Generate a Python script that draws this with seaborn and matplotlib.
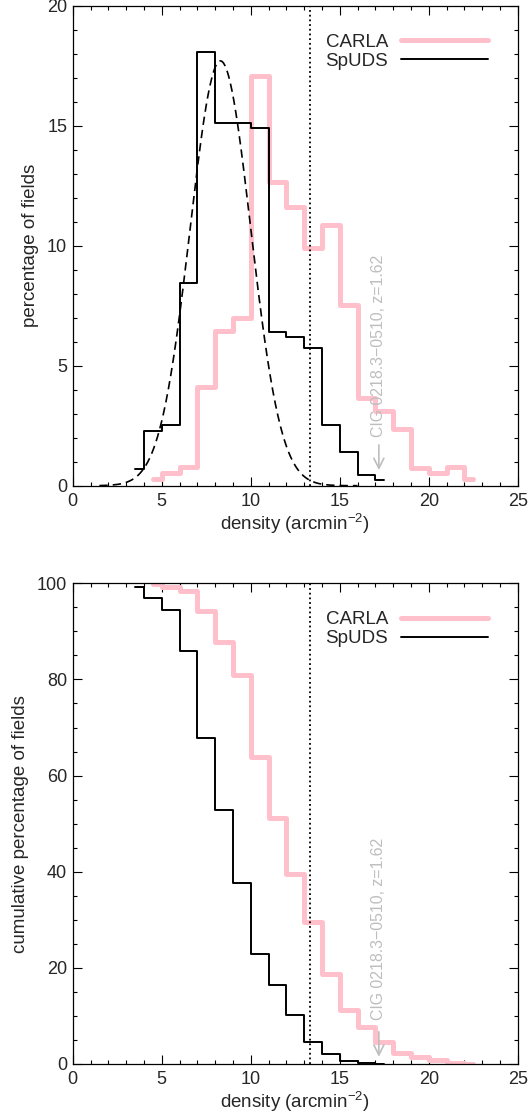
import numpy as np
import pandas as pd
import matplotlib
matplotlib.use("Agg")
import matplotlib.pyplot as plt
from matplotlib.ticker import MultipleLocator
import seaborn as sns

# ---------------- data ----------------
spuds_centers = [3.5, 4.5, 5.5, 6.5, 7.5, 8.5, 9.5, 10.5, 11.5, 12.5, 13.5, 14.5, 15.5, 16.5, 17.5]
spuds_pct = [0.68, 2.29, 2.53, 8.46, 18.07, 15.10, 15.10, 14.89, 6.42, 6.18, 5.72, 2.53, 1.39, 0.45, 0.24]
spuds_cum = [99.3, 97.0, 94.4, 85.9, 67.9, 52.8, 37.7, 22.8, 16.5, 10.2, 4.5, 2.0, 0.7, 0.2, 0.0]

carla_centers = [4.5, 5.5, 6.5, 7.5, 8.5, 9.5, 10.5, 11.5, 12.5, 13.5, 14.5, 15.5, 16.5,
                 17.5, 18.5, 19.5, 20.5, 21.5, 22.5]
carla_pct = [0.27, 0.52, 0.79, 4.13, 6.46, 6.97, 17.07, 12.67, 11.63, 9.89, 10.86, 7.53, 3.64,
             3.13, 2.35, 0.75, 0.52, 0.79, 0.27]
carla_cum = [99.8, 99.2, 98.4, 94.3, 87.8, 80.9, 63.8, 51.1, 39.5, 29.6, 18.8, 11.3, 7.6,
             4.6, 2.3, 1.4, 0.9, 0.2, 0.0]

# Gaussian fit to SpUDS (parameters)
gauss_amp = 17.7
gauss_mean = 8.3
gauss_sigma = 1.7
gauss_xrange = (1.5, 16.0)

cluster_density = 13.33
cluster_label = "CIG 0218.3\u22120510, z=1.62"

x_ticks = [0, 5, 10, 15, 20, 25]

# ---------------- style ----------------
sns.set_theme(style="ticks")
plt.rcParams["font.family"] = ["Liberation Sans", "DejaVu Sans"]
plt.rcParams["mathtext.fontset"] = "custom"
plt.rcParams["mathtext.rm"] = "Liberation Sans"
plt.rcParams["mathtext.it"] = "Liberation Sans:italic"

PINK = "#ffc0cb"
GRAY = "#bebebe"
TICK_FS = 13
LAB_FS = 13.5
LEG_FS = 13.5

W, H = 528, 1118
fig = plt.figure(figsize=(W / 100, H / 100), dpi=100)
ax1 = fig.add_axes([72.7 / W, 1 - 485.7 / H, 445 / W, 480.0 / H])
ax2 = fig.add_axes([72.7 / W, 1 - 1064 / H, 445 / W, 480.7 / H])

df_c = pd.DataFrame({"x": carla_centers, "pct": carla_pct, "cum": carla_cum})
df_s = pd.DataFrame({"x": spuds_centers, "pct": spuds_pct, "cum": spuds_cum})

gx = np.linspace(gauss_xrange[0], gauss_xrange[1], 400)
gy = gauss_amp * np.exp(-0.5 * ((gx - gauss_mean) / gauss_sigma) ** 2)


def style_axes(ax, ymax, ymajor, yminor, ylabel, ylabelpad):
    ax.set_xlim(0, 25)
    ax.set_ylim(0, ymax)
    ax.set_xticks(x_ticks)
    ax.xaxis.set_minor_locator(MultipleLocator(1))
    ax.yaxis.set_major_locator(MultipleLocator(ymajor))
    ax.yaxis.set_minor_locator(MultipleLocator(yminor))
    ax.tick_params(which="both", direction="in", top=True, right=True,
                   color="black", width=0.8)
    ax.tick_params(which="major", length=6.5)
    ax.tick_params(which="minor", length=3.2)
    ax.tick_params(axis="x", which="major", pad=5.0, labelsize=TICK_FS)
    ax.tick_params(axis="y", which="major", pad=4, labelsize=TICK_FS)
    for sp in ax.spines.values():
        sp.set_visible(True)
        sp.set_color("black")
        sp.set_linewidth(0.9)
    ax.set_xlabel("density (arcmin$^{-2}$)", fontsize=LAB_FS, labelpad=1.5)
    ax.set_ylabel(ylabel, fontsize=LAB_FS, labelpad=ylabelpad)
    leg = ax.legend(loc="upper right", bbox_to_anchor=(0.9326, 0.942),
                    frameon=False, markerfirst=False, fontsize=LEG_FS,
                    handlelength=4.6, handletextpad=0.7, labelspacing=0.1,
                    borderpad=0, borderaxespad=0)
    return leg


def annotate(ax, x, text_y0, arrow_y0, arrow_y1):
    ax.text(x, text_y0, cluster_label, rotation=90, ha="center", va="bottom",
            color=GRAY, fontsize=11.4, zorder=6)
    ax.annotate("", xy=(x, arrow_y1), xytext=(x, arrow_y0),
                arrowprops=dict(arrowstyle="->", color=GRAY, lw=1.2,
                                mutation_scale=18, shrinkA=0, shrinkB=0),
                zorder=6)


# ---------------- top panel: histogram ----------------
sns.lineplot(data=df_c, x="x", y="pct", ax=ax1, color=PINK, lw=3.6,
             drawstyle="steps-mid", label="CARLA", zorder=2)
sns.lineplot(data=df_s, x="x", y="pct", ax=ax1, color="black", lw=1.4,
             drawstyle="steps-mid", label="SpUDS", zorder=3)
sns.lineplot(x=gx, y=gy, ax=ax1, color="black", lw=1.2, dashes=False,
             linestyle=(0, (5.0, 3.0)), zorder=3)
ax1.axvline(cluster_density, color="black", lw=1.3, linestyle=(0, (1, 1.6)), zorder=4)
annotate(ax1, 17.2, 2.04, 1.7, 0.65)
style_axes(ax1, 20, 5, 1, "percentage of fields", 6)

# ---------------- bottom panel: cumulative ----------------
sns.lineplot(data=df_c, x="x", y="cum", ax=ax2, color=PINK, lw=3.6,
             drawstyle="steps-mid", label="CARLA", zorder=2)
sns.lineplot(data=df_s, x="x", y="cum", ax=ax2, color="black", lw=1.4,
             drawstyle="steps-mid", label="SpUDS", zorder=3)
ax2.axvline(cluster_density, color="black", lw=1.3, linestyle=(0, (1, 1.6)), zorder=4)
annotate(ax2, 17.2, 9.15, 6.7, 1.5)
style_axes(ax2, 100, 20, 5, "cumulative percentage of fields", 6)

fig.savefig("out.png", dpi=100)
